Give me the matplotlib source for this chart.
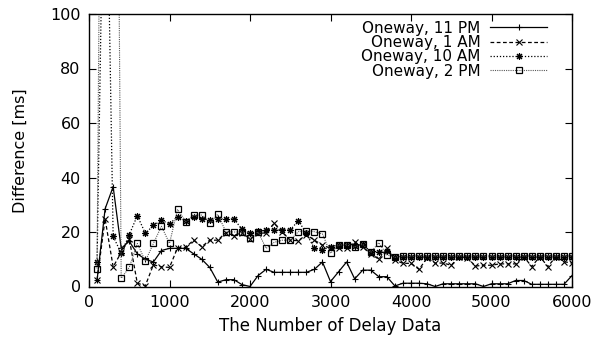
import matplotlib
matplotlib.use('Agg')

import matplotlib.pyplot as plt

# number of delay data (x axis)
n_data = [100, 200, 300, 400, 500, 600, 700, 800, 900, 1000,
          1100, 1200, 1300, 1400, 1500, 1600, 1700, 1800, 1900, 2000,
          2100, 2200, 2300, 2400, 2500, 2600, 2700, 2800, 2900, 3000,
          3100, 3200, 3300, 3400, 3500, 3600, 3700, 3800, 3900, 4000,
          4100, 4200, 4300, 4400, 4500, 4600, 4700, 4800, 4900, 5000,
          5100, 5200, 5300, 5400, 5500, 5600, 5700, 5800, 5900, 6000]

pm11 = [2.3, 28.5, 36.6, 14, 16.6, 12, 10, 9, 13.2, 14,
        14, 14, 12, 10, 7, 1.6, 2.5, 2.5, 0.7, 0,
        4, 6.3, 5.2, 5.2, 5.2, 5.2, 5.2, 6.3, 9, 1.8,
        5.4, 9, 2.8, 6, 6, 3.6, 3.6, 0.2, 1.2, 1.2,
        1.2, 1, 0, 1, 1, 1, 1, 1, 0, 1,
        1, 1, 2.2, 2.2, 0.8, 0.8, 0.8, 0.8, 0.8, 4]

am1 = [2.4, 24.8, 7.2, 12.5, 17.5, 1.2, 0.3, 8, 7.2, 7,
       14.2, 14.4, 17, 14.6, 17, 17, 19.8, 18.7, 19.8, 17.4,
       19.6, 19.6, 23.2, 20, 17, 16.8, 19, 17, 15.2, 14,
       14, 14, 16.4, 14.5, 12, 10, 14, 9.7, 8.5, 8.5,
       6.3, 10.5, 8.6, 8.6, 7.8, 11, 10.5, 7.5, 7.8, 7.8,
       8.3, 8.3, 8.3, 11, 7.3, 11, 7.3, 11, 9.1, 8.6]

am10 = [9, 191, 18.4, 12.2, 19, 26, 19.5, 22.4, 24.3, 23,
        25.6, 24, 25.5, 24.8, 24.5, 24.8, 24.8, 24.8, 21, 19.5,
        20.2, 20.7, 20.7, 20.7, 20.7, 24.2, 19.5, 14, 13.4, 14.6,
        15.2, 15.2, 15, 15.5, 12.8, 12.8, 13.1, 11, 10.8, 10.8,
        10.8, 10.8, 10.8, 10.8, 10.8, 10.8, 10.8, 10.8, 10.8, 10.8,
        10.8, 10.8, 10.8, 10.8, 10.8, 10.8, 10.8, 10.8, 10.8, 10.8]

pm2 = [6.6, 400, 400, 3, 7, 15.8, 9.3, 15.8, 22.1, 15.8,
       28.3, 23.8, 26.2, 26.2, 23.4, 26.5, 20.1, 20, 20, 17.7,
       20, 14, 16.2, 17, 17, 20.1, 20.5, 20.1, 19.3, 12.2,
       15.2, 15.2, 14.6, 15.5, 12.5, 16.1, 11.6, 10.7, 11.2, 11.2,
       11.2, 11.2, 11.2, 11.2, 11.2, 11.2, 11.2, 11.2, 11.2, 11.2,
       11.2, 11.2, 11.2, 11.2, 11.2, 11.2, 11.2, 11.2, 11.2, 11.2]


def main():
    plt.rcParams['font.family'] = ['DejaVu Sans']

    fig = plt.figure(figsize=(5.97, 3.37), dpi=100)
    ax = fig.add_axes([89 / 597, 1 - 286.5 / 337, 483 / 597, 272.5 / 337])

    ax.plot(n_data, pm11, color='black', lw=0.9, ls='-',
            marker='+', ms=4.5, mew=0.8, label='Oneway, 11 PM')
    ax.plot(n_data, am1, color='black', lw=0.9, ls=(0, (3, 2)),
            marker='x', ms=4.5, mew=0.8, label='Oneway, 1 AM')
    ax.plot(n_data, am10, color='black', lw=0.9, ls=(0, (1, 1.5)),
            marker=(8, 2, 0), ms=5, mew=0.8, label='Oneway, 10 AM')
    ax.plot(n_data, pm2, color='0.35', lw=0.8, ls=(0, (1, 1)),
            marker='s', ms=5, mew=0.9, mec='black', mfc='none',
            label='Oneway, 2 PM')

    ax.set_xlim(0, 6000)
    ax.set_ylim(0, 100)
    ax.set_xticks([0, 1000, 2000, 3000, 4000, 5000, 6000])
    ax.set_yticks([0, 20, 40, 60, 80, 100])
    ax.tick_params(direction='in', top=True, right=True, length=5,
                   width=0.8, labelsize=11.5, pad=6)
    for s in ax.spines.values():
        s.set_linewidth(1.0)

    ax.set_xlabel('The Number of Delay Data', fontsize=12, labelpad=5)
    ax.set_ylabel('Difference [ms]', fontsize=11.5, labelpad=16)

    ax.legend(loc='upper right', bbox_to_anchor=(0.948, 0.975),
              frameon=False, markerfirst=False, numpoints=1,
              fontsize=11, handlelength=3.7, handletextpad=0.65,
              labelspacing=-0.05, borderpad=0, borderaxespad=0)

    fig.savefig('out.png', dpi=100)
    plt.close(fig)


if __name__ == "__main__":
    main()
